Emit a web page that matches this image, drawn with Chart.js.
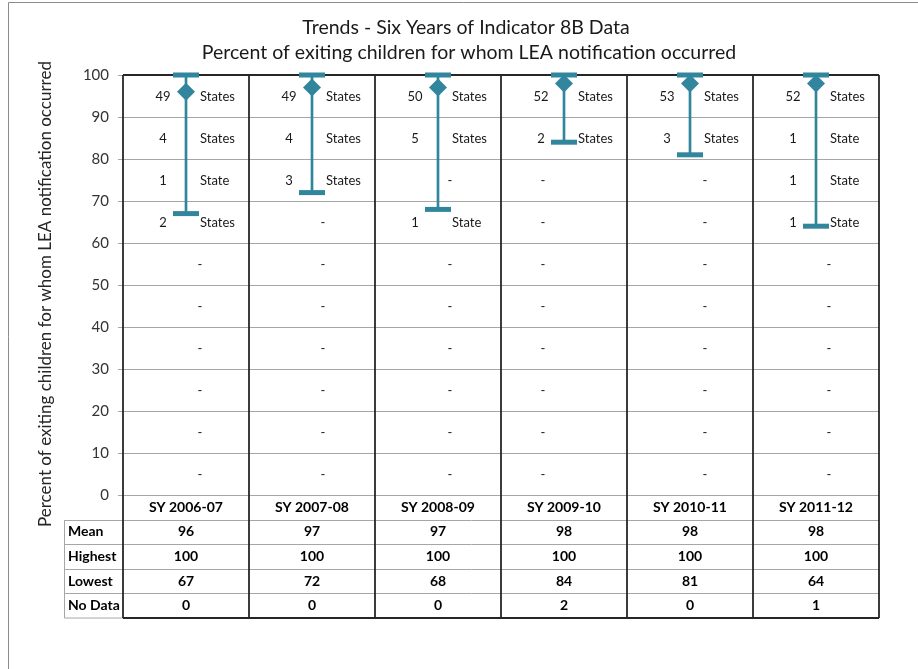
<!DOCTYPE html>
<html><head><meta charset="utf-8">
<script src="https://cdn.jsdelivr.net/npm/chart.js@4/dist/chart.umd.min.js"></script>
<style>html,body{margin:0;padding:0;background:#fff}#wrap{width:918px;height:669px;position:relative}</style>
</head><body><div id="wrap"><canvas id="c" width="918" height="669"></canvas></div>
<script>
// ---- DATA ----
const categories = ['SY 2006-07', 'SY 2007-08', 'SY 2008-09', 'SY 2009-10', 'SY 2010-11', 'SY 2011-12'];
const meanValues = [96, 97, 97, 98, 98, 98];
const highestValues = [100, 100, 100, 100, 100, 100];
const lowestValues = [67, 72, 68, 84, 81, 64];
const noDataCounts = [0, 0, 0, 2, 0, 1];
// number of states per 10-point band (90-100, 80-90, ... 0-10)
const bandMidpoints = [95, 85, 75, 65, 55, 45, 35, 25, 15, 5];
const stateCounts = [
  [49, 4, 1, 2, 0, 0, 0, 0, 0, 0],
  [49, 4, 3, 0, 0, 0, 0, 0, 0, 0],
  [50, 5, 0, 1, 0, 0, 0, 0, 0, 0],
  [52, 2, 0, 0, 0, 0, 0, 0, 0, 0],
  [53, 3, 0, 0, 0, 0, 0, 0, 0, 0],
  [52, 1, 1, 1, 0, 0, 0, 0, 0, 0]
];
const yMin = 0, yMax = 100, yStep = 10;
const titleLines = ['Trends - Six Years of Indicator 8B Data', 'Percent of exiting children for whom LEA notification occurred'];
const yAxisTitle = 'Percent of exiting children for whom LEA notification occurred';
const tableRowLabels = ['Mean', 'Highest', 'Lowest', 'No Data'];

// ---- STYLE / LAYOUT ----
const TEAL = '#31859C';
const FONT = 'Lato';
const dashOffsets = [14, 11, 12, -21, 15, 13];
const TABLE_BOTTOM = 618;
const LABEL_COL_LEFT = 64;

Chart.defaults.font.family = FONT;

const overlay = {
  id: 'overlay',
  beforeDraw(chart) {
    const ctx = chart.ctx;
    ctx.save();
    ctx.fillStyle = '#fff';
    ctx.fillRect(0, 0, chart.width, chart.height);
    ctx.strokeStyle = '#8c8c8c';
    ctx.lineWidth = 1;
    ctx.beginPath();
    ctx.moveTo(8.5, chart.height + 2);
    ctx.lineTo(8.5, 2.5);
    ctx.lineTo(chart.width + 2, 2.5);
    ctx.stroke();
    ctx.restore();
  },
  beforeDatasetsDraw(chart) {
    const ctx = chart.ctx, a = chart.chartArea;
    const n = categories.length;
    const colW = (a.right - a.left) / n;
    ctx.save();
    const rows = tableRowLabels.length;
    const rowH = (TABLE_BOTTOM - a.bottom) / (rows + 1);
    ctx.strokeStyle = '#a6a6a6';
    ctx.lineWidth = 1;
    for (let r = 1; r <= rows; r++) {
      const y = Math.round(a.bottom + r * rowH) + 0.5;
      ctx.beginPath(); ctx.moveTo(LABEL_COL_LEFT, y); ctx.lineTo(a.right, y); ctx.stroke();
    }
    ctx.beginPath();
    ctx.moveTo(LABEL_COL_LEFT + 0.5, Math.round(a.bottom + rowH));
    ctx.lineTo(LABEL_COL_LEFT + 0.5, TABLE_BOTTOM);
    ctx.lineTo(a.left, TABLE_BOTTOM);
    ctx.stroke();
    ctx.strokeStyle = '#262626';
    ctx.lineWidth = 1.8;
    for (let i = 0; i <= n; i++) {
      const x = a.left + i * colW;
      ctx.beginPath(); ctx.moveTo(x, a.top); ctx.lineTo(x, TABLE_BOTTOM); ctx.stroke();
    }
    ctx.beginPath(); ctx.moveTo(a.left, a.top); ctx.lineTo(a.right, a.top); ctx.stroke();
    ctx.beginPath(); ctx.moveTo(a.left, TABLE_BOTTOM); ctx.lineTo(a.right, TABLE_BOTTOM); ctx.stroke();
    ctx.restore();
  },
  afterDraw(chart) {
    const ctx = chart.ctx, a = chart.chartArea, xs = chart.scales.x, ys = chart.scales.y;
    ctx.save();
    ctx.fillStyle = '#1a1a1a';
    ctx.textAlign = 'center';
    ctx.textBaseline = 'middle';
    ctx.font = '19.5px ' + FONT;
    const tc = (chart.options.layout.padding.left + a.right) / 2;
    ctx.fillText(titleLines[0], tc - 3, 28);
    ctx.fillText(titleLines[1], tc, 53);
    ctx.save();
    ctx.translate(46, 294);
    ctx.rotate(-Math.PI / 2);
    ctx.font = '17px ' + FONT;
    ctx.fillStyle = '#262626';
    ctx.fillText(yAxisTitle, 0, 0);
    ctx.restore();
    ctx.font = '13px ' + FONT;
    ctx.fillStyle = '#1a1a1a';
    categories.forEach((c, i) => {
      const cx = xs.getPixelForValue(i);
      stateCounts[i].forEach((cnt, b) => {
        const y = ys.getPixelForValue(bandMidpoints[b]) + 1;
        if (cnt > 0) {
          ctx.textAlign = 'center';
          ctx.fillText(String(cnt), cx - 23, y);
          ctx.textAlign = 'left';
          ctx.fillText(cnt === 1 ? 'State' : 'States', cx + 14, y);
        } else {
          ctx.textAlign = 'center';
          ctx.fillText('-', cx + dashOffsets[i], y);
        }
      });
    });
    const rows = tableRowLabels.length;
    const rowH = (TABLE_BOTTOM - a.bottom) / (rows + 1);
    ctx.font = 'bold 14px ' + FONT;
    ctx.fillStyle = '#000';
    const tableData = [meanValues, highestValues, lowestValues, noDataCounts];
    categories.forEach((c, i) => {
      const cx = xs.getPixelForValue(i);
      ctx.textAlign = 'center';
      ctx.fillText(c, cx, a.bottom + rowH * 0.5);
      tableData.forEach((arr, r) => {
        ctx.fillText(String(arr[i]), cx, a.bottom + rowH * (r + 1.5));
      });
    });
    ctx.textAlign = 'left';
    tableRowLabels.forEach((lab, r) => {
      ctx.fillText(lab, LABEL_COL_LEFT + 4, a.bottom + rowH * (r + 1.5));
    });
    ctx.restore();
  }
};

new Chart(document.getElementById('c'), {
  type: 'bar',
  data: {
    labels: categories,
    datasets: [
      { type: 'line', label: 'Mean', data: meanValues, showLine: false, pointStyle: 'rectRot', pointRadius: 9, pointBackgroundColor: TEAL, pointBorderColor: TEAL, pointBorderWidth: 0, clip: false, order: 0 },
      { type: 'line', label: 'Highest', data: highestValues, showLine: false, pointStyle: 'line', pointRadius: 13, pointBorderWidth: 5, pointBorderColor: TEAL, clip: false, order: 1 },
      { type: 'line', label: 'Lowest', data: lowestValues, showLine: false, pointStyle: 'line', pointRadius: 13, pointBorderWidth: 5, pointBorderColor: TEAL, clip: false, order: 1 },
      { type: 'bar', label: 'Range', data: lowestValues.map((l, i) => [l, highestValues[i]]), backgroundColor: TEAL, barThickness: 2, order: 2 }
    ]
  },
  options: {
    responsive: false,
    animation: false,
    events: [],
    layout: { padding: { left: 59, right: 39, top: 75, bottom: 0 } },
    plugins: { legend: { display: false }, title: { display: false }, tooltip: { enabled: false } },
    scales: {
      x: {
        grid: { display: false }, border: { display: false }, ticks: { display: false },
        afterFit: s => { s.height = 174; }
      },
      y: {
        min: yMin, max: yMax,
        ticks: { stepSize: yStep, padding: 9, color: '#333', font: { size: 15, family: FONT } },
        grid: { color: '#a6a6a6', lineWidth: 1, tickLength: 5 },
        border: { display: false },
        afterFit: s => { s.width = 64; }
      }
    }
  },
  plugins: [overlay]
});
</script>
</body></html>
